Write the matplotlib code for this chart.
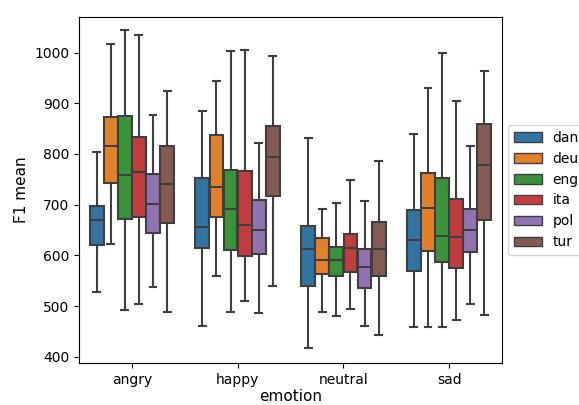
import numpy as np
import matplotlib
matplotlib.use("Agg")
import matplotlib.pyplot as plt
from matplotlib.patches import Patch

# Box statistics
emotions = ["angry", "happy", "neutral", "sad"]
languages = ["dan", "deu", "eng", "ita", "pol", "tur"]

# each list: one entry per emotion
whislo = {
    "dan": [527, 460, 418, 458],
    "deu": [622, 560, 488, 458],
    "eng": [492, 488, 481, 458],
    "ita": [505, 510, 495, 473],
    "pol": [537, 487, 460, 505],
    "tur": [488, 540, 443, 483],
}
q1 = {
    "dan": [620, 614, 540, 570],
    "deu": [743, 675, 563, 608],
    "eng": [672, 611, 559, 587],
    "ita": [675, 599, 567, 576],
    "pol": [645, 602, 536, 607],
    "tur": [664, 717, 559, 670],
}
med = {
    "dan": [669, 657, 612, 630],
    "deu": [816, 734, 592, 694],
    "eng": [759, 691, 592, 639],
    "ita": [764, 660, 615, 637],
    "pol": [702, 650, 578, 650],
    "tur": [740, 794, 612, 778],
}
q3 = {
    "dan": [697, 752, 658, 689],
    "deu": [873, 837, 635, 763],
    "eng": [875, 769, 616, 752],
    "ita": [834, 767, 643, 712],
    "pol": [761, 709, 612, 691],
    "tur": [816, 855, 665, 860],
}
whishi = {
    "dan": [803, 884, 831, 840],
    "deu": [1016, 943, 691, 931],
    "eng": [1045, 1003, 703, 999],
    "ita": [1034, 1005, 748, 904],
    "pol": [877, 822, 707, 815],
    "tur": [924, 994, 786, 963],
}

colors = ["#3274a1", "#e1812c", "#3a923a", "#c03d3e", "#9372b2", "#845b53"]
line_gray = "#3f3f3f"

fig = plt.figure(figsize=(5.79, 4.05), dpi=100)
ax = fig.add_axes([0.1364, 0.1037, 0.7306, 0.8543])

n = len(languages)
group_width = 0.8
box_w = group_width / n

for j, lang in enumerate(languages):
    stats = []
    positions = []
    for i, emo in enumerate(emotions):
        stats.append({
            "whislo": whislo[lang][i], "q1": q1[lang][i], "med": med[lang][i],
            "q3": q3[lang][i], "whishi": whishi[lang][i], "fliers": [],
        })
        positions.append(i - group_width / 2 + box_w * (j + 0.5))
    ax.bxp(stats, positions=positions, widths=box_w * 0.98, patch_artist=True,
           showfliers=False, manage_ticks=False,
           boxprops=dict(facecolor=colors[j], edgecolor=line_gray, linewidth=1.5),
           medianprops=dict(color=line_gray, linewidth=1.5),
           whiskerprops=dict(color=line_gray, linewidth=1.5),
           capprops=dict(color=line_gray, linewidth=1.5))

ax.set_xticks(range(len(emotions)))
ax.set_xticklabels(emotions)
ax.set_xlim(-0.5, len(emotions) - 0.5)
ax.set_ylim(388, 1070)
ax.set_yticks([400, 500, 600, 700, 800, 900, 1000])
ax.set_xlabel("emotion", fontsize=11, labelpad=1.5)
ax.set_ylabel("F1 mean", fontsize=11)

handles = [Patch(facecolor=c, edgecolor=line_gray, label=l) for c, l in zip(colors, languages)]
ax.legend(handles=handles, loc="center left", bbox_to_anchor=(1.005, 0.5),
          borderaxespad=0.3)

fig.savefig("out.png", dpi=100)
